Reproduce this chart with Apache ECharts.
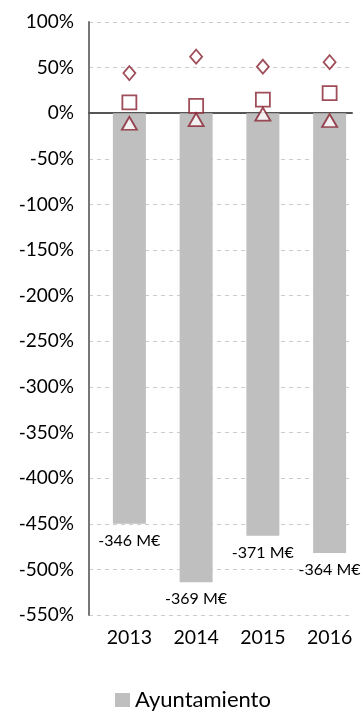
<!DOCTYPE html>
<html><head><meta charset="utf-8">
<script src="https://cdn.jsdelivr.net/npm/echarts@6/dist/echarts.min.js"></script>
<style>html,body{margin:0;padding:0;background:#fff}#c{width:364px;height:712px}</style>
</head><body><div id="c"></div>
<script>
const categories = ['2013','2014','2015','2016'];
const barValues = [-450, -514, -463, -482];
const barLabels = ['-346 M€','-369 M€','-371 M€','-364 M€'];
const diamondValues = [44, 62, 51, 56];
const squareValues = [12, 8, 15, 22];
const triangleValues = [-11, -7, -1, -8];
const yTicks = {min: -550, max: 100, interval: 50};

const FONT = 'Lato';
const RED = '#86202F';
const chart = echarts.init(document.getElementById('c'));
function markerSeries(name, symbol, data, size){
  return {name, type:'scatter', xAxisIndex:1, yAxisIndex:1, symbol, symbolSize:size, data,
    itemStyle:{color:'#fff', borderColor:RED, borderWidth:1.8}, z:5};
}
chart.setOption({
  animation:false,
  textStyle:{fontFamily:FONT},
  grid:[
    {left:89, right:12, top:22, bottom:97},
    {left:96, right:1, top:22, bottom:97}
  ],
  legend:{data:['Ayuntamiento'], top:684, left:110, itemWidth:15, itemHeight:14, itemGap:8,
    icon:'rect', textStyle:{fontSize:22, color:'#000', fontFamily:FONT}},
  xAxis:[
    {type:'category', gridIndex:0, data:categories,
     axisLine:{show:true, onZero:true, lineStyle:{color:'#555', width:2}},
     axisTick:{show:false}, axisLabel:{show:false}, splitLine:{show:false}},
    {type:'category', gridIndex:1, data:categories,
     axisLine:{show:false, onZero:false}, axisTick:{show:false},
     axisLabel:{fontSize:19.5, color:'#000', margin:13, fontFamily:FONT}}
  ],
  yAxis:[
    {type:'value', gridIndex:0, min:yTicks.min, max:yTicks.max, interval:yTicks.interval,
     axisLine:{show:true, lineStyle:{color:'#777', width:2}},
     axisTick:{show:false},
     axisLabel:{formatter:'{value}%', fontSize:19, color:'#000', margin:15, fontFamily:FONT},
     splitLine:{show:true, lineStyle:{color:'#ccc', type:[4,4], width:1}}},
    {type:'value', gridIndex:1, min:yTicks.min, max:yTicks.max, interval:yTicks.interval,
     show:false, splitLine:{show:false}}
  ],
  series:[
    {name:'Ayuntamiento', type:'bar', xAxisIndex:1, yAxisIndex:1, data:barValues, barWidth:33,
     itemStyle:{color:'#BFBFBF'},
     label:{show:true, position:'bottom', distance:9, fontSize:16, color:'#000', fontFamily:FONT,
       formatter:p=>barLabels[p.dataIndex]}},
    markerSeries('d', 'diamond', diamondValues, [12,14]),
    markerSeries('s', 'rect', squareValues, 14),
    markerSeries('t', 'triangle', triangleValues, [15,13])
  ]
});
</script></body></html>
